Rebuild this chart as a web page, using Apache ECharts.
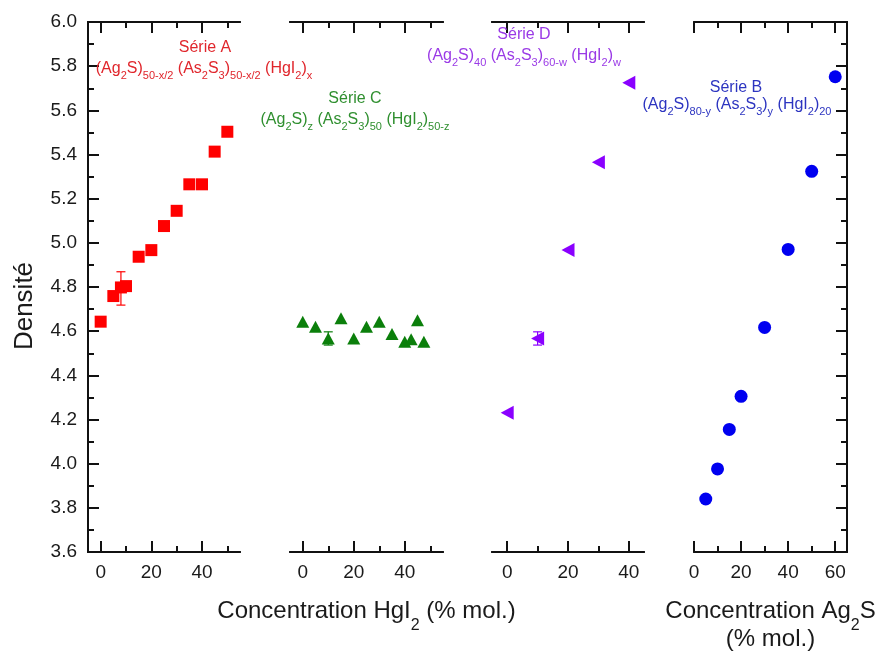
<!DOCTYPE html>
<html><head><meta charset="utf-8">
<script src="https://cdn.jsdelivr.net/npm/echarts@6/dist/echarts.min.js"></script>
<style>html,body{margin:0;padding:0;background:#fff}#c{width:882px;height:662px}</style>
</head><body><div id="c"></div>
<script>
// ---------- data ----------
const serieA_x = [0, 5, 8, 10, 15, 20, 25, 30, 35, 40, 45, 50];
const serieA_y = [4.643, 4.759, 4.798, 4.804, 4.937, 4.967, 5.076, 5.145, 5.265, 5.265, 5.413, 5.503];
const serieC_x = [0, 5, 10, 15, 20, 25, 30, 35, 40, 42.5, 45, 47.5];
const serieC_y = [4.643, 4.620, 4.567, 4.658, 4.567, 4.620, 4.643, 4.587, 4.552, 4.563, 4.650, 4.552];
const serieD_x = [0, 10, 20, 30, 40];
const serieD_y = [4.231, 4.567, 4.967, 5.365, 5.725];
const serieB_x = [5, 10, 15, 20, 30, 40, 50, 60];
const serieB_y = [3.840, 3.976, 4.155, 4.305, 4.617, 4.970, 5.324, 5.752];
// error bars: [x, low, high]
const errA = [[8, 4.718, 4.869]];
const errC = [[10, 4.537, 4.597]];
const errD = [[10, 4.537, 4.597]];
// ticks
const ticksHgI2 = [0, 20, 40];
const minorHgI2 = [10, 30, 50];
const ticksD = [0, 20, 40];
const minorD = [10, 30];
const ticksB = [0, 20, 40, 60];
const minorB = [10, 30, 50];
const yMin = 3.6, yMax = 6.0, yStep = 0.2;

// ---------- style ----------
const FONT = '"Liberation Sans", Arial, sans-serif';
const AXC = '#111';
const LBL = '#1a1a1a';
const COL = {
  A: {mark: '#ff0000', text: '#e0262c'},
  C: {mark: '#0b7f0b', text: '#2f8f2f'},
  D: {mark: '#8a00ff', text: '#9a3ae6'},
  B: {mark: '#0000f0', text: '#2c34c0'}
};

const panels = [
  {left: 88,  width: 152, min: -5, max: 55, major: ticksHgI2, minor: minorHgI2},
  {left: 290, width: 153, min: -5, max: 55, major: ticksHgI2, minor: minorHgI2},
  {left: 492, width: 152, min: -5, max: 45, major: ticksD, minor: minorD},
  {left: 694, width: 153, min: 0,  max: 65, major: ticksB, minor: minorB}
];
const TOP = 22, HEIGHT = 530;

function chemRich(str) {
  let out = '', last = 0, m;
  const re = /_\{([^}]*)\}/g;
  while ((m = re.exec(str))) {
    if (m.index > last) out += '{t|' + str.slice(last, m.index) + '}';
    out += '{s|' + m[1] + '}';
    last = re.lastIndex;
  }
  if (last < str.length) out += '{t|' + str.slice(last) + '}';
  return out;
}

function xAx(i, p, pos, vals, len, labels, extra) {
  return Object.assign({
    type: 'value', gridIndex: i, position: pos, min: p.min, max: p.max,
    axisLine: {show: true, onZero: false, lineStyle: {color: AXC, width: 2}},
    axisTick: {show: true, inside: true, length: len, customValues: vals, lineStyle: {color: AXC, width: 2}},
    axisLabel: {show: labels, customValues: vals, margin: 11, fontSize: 19, color: LBL, fontFamily: FONT},
    splitLine: {show: false}, minorTick: {show: false}
  }, extra || {});
}

const titleRich = {
  t: {fontSize: 24, fontFamily: FONT, color: LBL, lineHeight: 28, verticalAlign: 'top'},
  s: {fontSize: 16, fontFamily: FONT, color: LBL, lineHeight: 16, padding: [19, 0, 0, 0], verticalAlign: 'top'},
  u: {fontSize: 24, fontFamily: FONT, color: LBL, lineHeight: 33, verticalAlign: 'top'}
};

const grids = [], xAxes = [], yAxes = [];
panels.forEach((p, i) => {
  grids.push({left: p.left, top: TOP, width: p.width, height: HEIGHT});
  let nameOpt = {};
  if (i === 1) nameOpt = {name: chemRich('Concentration HgI_{2} (% mol.)'), nameLocation: 'middle', nameGap: 47,
    nameTextStyle: {rich: titleRich}};
  if (i === 3) nameOpt = {name: chemRich('Concentration Ag_{2}S') + '\n{u|(% mol.)}', nameLocation: 'middle', nameGap: 47,
    nameTextStyle: {rich: titleRich}};
  xAxes.push(xAx(i, p, 'bottom', p.major, 11, true, nameOpt));
  xAxes.push(xAx(i, p, 'bottom', p.minor, 6, false));
  xAxes.push(xAx(i, p, 'top', p.major, 11, false));
  xAxes.push(xAx(i, p, 'top', p.minor, 6, false));
  const showY = (i === 0 || i === 3);
  yAxes.push({
    type: 'value', gridIndex: i, min: yMin, max: yMax, interval: yStep,
    position: i === 3 ? 'right' : 'left', show: showY,
    axisLine: {show: true, onZero: false, lineStyle: {color: AXC, width: 2}},
    axisTick: {show: true, inside: true, length: 11, lineStyle: {color: AXC, width: 2}},
    minorTick: {show: true, splitNumber: 2, length: 6, lineStyle: {color: AXC, width: 2}},
    axisLabel: {show: i === 0, margin: 11, fontSize: 19, color: LBL, fontFamily: FONT, formatter: v => v.toFixed(1)},
    splitLine: {show: false},
    name: i === 0 ? 'Densité' : '', nameLocation: 'middle', nameGap: 50,
    nameTextStyle: {fontSize: 26, fontFamily: FONT, color: LBL, padding: [0, 38, 0, 0]}
  });
});

function pts(xs, ys) { return xs.map((x, k) => [x, ys[k]]); }

function errSeries(i, data, color) {
  return {
    type: 'custom', xAxisIndex: i * 4, yAxisIndex: i, data: data, z: 1,
    encode: {x: 0, y: [1, 2]},
    renderItem: (params, api) => {
      const lo = api.coord([api.value(0), api.value(1)]);
      const hi = api.coord([api.value(0), api.value(2)]);
      const w = 4.5, st = {stroke: color, lineWidth: 1.2};
      return {type: 'group', children: [
        {type: 'line', shape: {x1: lo[0], y1: lo[1], x2: hi[0], y2: hi[1]}, style: st},
        {type: 'line', shape: {x1: lo[0] - w, y1: lo[1], x2: lo[0] + w, y2: lo[1]}, style: st},
        {type: 'line', shape: {x1: hi[0] - w, y1: hi[1], x2: hi[0] + w, y2: hi[1]}, style: st}
      ]};
    }
  };
}

const series = [
  errSeries(0, errA, COL.A.mark),
  errSeries(1, errC, COL.C.mark),
  errSeries(2, errD, COL.D.mark),
  {type: 'scatter', name: 'Série A', xAxisIndex: 0, yAxisIndex: 0, data: pts(serieA_x, serieA_y),
   symbol: 'rect', symbolSize: 12, itemStyle: {color: COL.A.mark, opacity: 1}, z: 3},
  {type: 'scatter', name: 'Série C', xAxisIndex: 4, yAxisIndex: 1, data: pts(serieC_x, serieC_y),
   symbol: 'triangle', symbolSize: [13, 12], itemStyle: {color: COL.C.mark, opacity: 1}, z: 3},
  {type: 'scatter', name: 'Série D', xAxisIndex: 8, yAxisIndex: 2, data: pts(serieD_x, serieD_y),
   symbol: 'triangle', symbolSize: [14, 13], symbolRotate: 90, itemStyle: {color: COL.D.mark, opacity: 1}, z: 3},
  {type: 'scatter', name: 'Série B', xAxisIndex: 12, yAxisIndex: 3, data: pts(serieB_x, serieB_y),
   symbol: 'circle', symbolSize: 13, itemStyle: {color: COL.B.mark, opacity: 1}, z: 3}
];

function annRich(color) {
  return {
    t: {fontSize: 16, fontFamily: FONT, fill: color, color: color, lineHeight: 18, verticalAlign: 'top'},
    s: {fontSize: 11, fontFamily: FONT, fill: color, color: color, lineHeight: 11, padding: [9, 0, 0, 0], verticalAlign: 'top'}
  };
}
function label(x, y, text, color) {
  return {type: 'text', x: x, y: y, z: 10,
    style: {text: text, fill: color, font: '16px ' + FONT, align: 'center', verticalAlign: 'middle'}};
}
function formula(x, y, str, color) {
  return {type: 'text', x: x, y: y, z: 10,
    style: {text: chemRich(str), rich: annRich(color), fill: color, align: 'center', verticalAlign: 'middle'}};
}

const graphics = [
  label(205, 48, 'Série A', COL.A.text),
  formula(204, 70, '(Ag_{2}S)_{50-x/2} (As_{2}S_{3})_{50-x/2} (HgI_{2})_{x}', COL.A.text),
  label(355, 99, 'Série C', COL.C.text),
  formula(355, 121, '(Ag_{2}S)_{z} (As_{2}S_{3})_{50} (HgI_{2})_{50-z}', COL.C.text),
  label(524, 35, 'Série D', COL.D.text),
  formula(524, 57, '(Ag_{2}S)_{40} (As_{2}S_{3})_{60-w} (HgI_{2})_{w}', COL.D.text),
  label(736, 88, 'Série B', COL.B.text),
  formula(737, 106, '(Ag_{2}S)_{80-y} (As_{2}S_{3})_{y} (HgI_{2})_{20}', COL.B.text)
];

const chart = echarts.init(document.getElementById('c'));
chart.setOption({
  backgroundColor: '#fff',
  animation: false,
  textStyle: {fontFamily: FONT},
  grid: grids, xAxis: xAxes, yAxis: yAxes, series: series, graphic: graphics
});
</script></body></html>
